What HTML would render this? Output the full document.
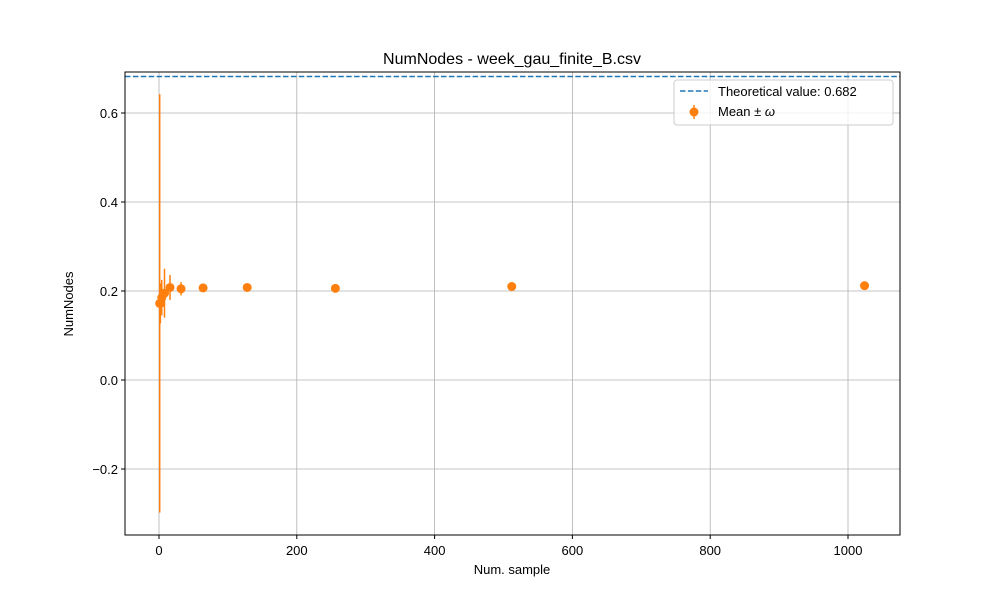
<!DOCTYPE html>
<html><head><meta charset="utf-8"><style>body{margin:0;background:#fff}svg{display:block;font-family:"Liberation Sans","DejaVu Sans",sans-serif}</style></head>
<body>
<svg id="c" width="1000" height="600"></svg>
<script>
const xs=[1,2,4,8,16,32,64,128,256,512,1024];
const means=[0.172,0.172,0.185,0.195,0.208,0.205,0.207,0.208,0.206,0.210,0.212];
const errs=[0.470,0.045,0.04,0.055,0.028,0.015,0.008,0.005,0.004,0.003,0.002];
const theo=0.682;
const xTicks=[0,200,400,600,800,1000];
const yTicks=[-0.2,0.0,0.2,0.4,0.6];
const L=125,R=900,T=72,B=535;
const X=v=>159+v*(848-159)/1000;
const Y=v=>380-v*(380-113)/0.6;
const s=document.getElementById('c');const NS='http://www.w3.org/2000/svg';
function mk(t,a,p){const e=document.createElementNS(NS,t);for(const k in a)e.setAttribute(k,a[k]);(p||s).appendChild(e);return e;}
let e;
e=mk('text',{x:512,y:64,'text-anchor':'middle','font-size':16});e.textContent='NumNodes - week_gau_finite_B.csv';


xTicks.forEach(v=>{const x=X(v);
e=mk('line',{x1:x,x2:x,y1:T,y2:B,stroke:'#b0b0b0','stroke-width':0.8});


mk('line',{x1:x,x2:x,y1:B,y2:B+4,stroke:'#000'});
e=mk('text',{x:x,y:B+20,'text-anchor':'middle','font-size':13});e.textContent=v;

});
yTicks.forEach(v=>{const y=Y(v);
e=mk('line',{x1:L,x2:R,y1:y,y2:y,stroke:'#b0b0b0','stroke-width':0.8});


mk('line',{x1:L-4,x2:L,y1:y,y2:y,stroke:'#000'});
e=mk('text',{x:L-7,y:y+5,'text-anchor':'end','font-size':13});e.textContent=(v<0?'\u2212':'')+Math.abs(v).toFixed(1);

});
e=mk('line',{x1:L,x2:R,y1:Y(theo),y2:Y(theo),stroke:'#1f77b4','stroke-width':1.5,'stroke-dasharray':'5.5,2.4'});


xs.forEach((v,i)=>{
e=mk('line',{x1:X(v),x2:X(v),y1:Y(means[i]+errs[i]),y2:Y(means[i]-errs[i]),stroke:'#ff7f0e','stroke-width':1.5});


e=mk('circle',{cx:X(v),cy:Y(means[i]),r:4.5,fill:'#ff7f0e'});

});
e=mk('rect',{x:L,y:T,width:R-L,height:B-T,fill:'none',stroke:'#000','stroke-width':1});


e=mk('text',{x:512,y:574,'text-anchor':'middle','font-size':13});e.textContent='Num. sample';


e=mk('text',{x:0,y:0,'text-anchor':'middle','font-size':13,transform:'translate(73,304) rotate(-90)'});e.textContent='NumNodes';


const g=mk('g',{});


mk('rect',{x:674,y:80,width:219,height:45,rx:3,fill:'#fff','fill-opacity':0.8,stroke:'#ccc'},g);
mk('line',{x1:680,x2:708,y1:91,y2:91,stroke:'#1f77b4','stroke-width':1.5,'stroke-dasharray':'5.5,2.4'},g);
e=mk('text',{x:718,y:96,'font-size':13},g);e.textContent='Theoretical value: 0.682';
mk('line',{x1:694,x2:694,y1:105,y2:119,stroke:'#ff7f0e','stroke-width':1.5},g);
mk('circle',{cx:694,cy:112,r:4.5,fill:'#ff7f0e'},g);
e=mk('text',{x:718,y:116,'font-size':13},g);e.innerHTML='Mean \u00b1 <tspan font-style="italic">\u03c9</tspan>';
</script>
</body></html>
